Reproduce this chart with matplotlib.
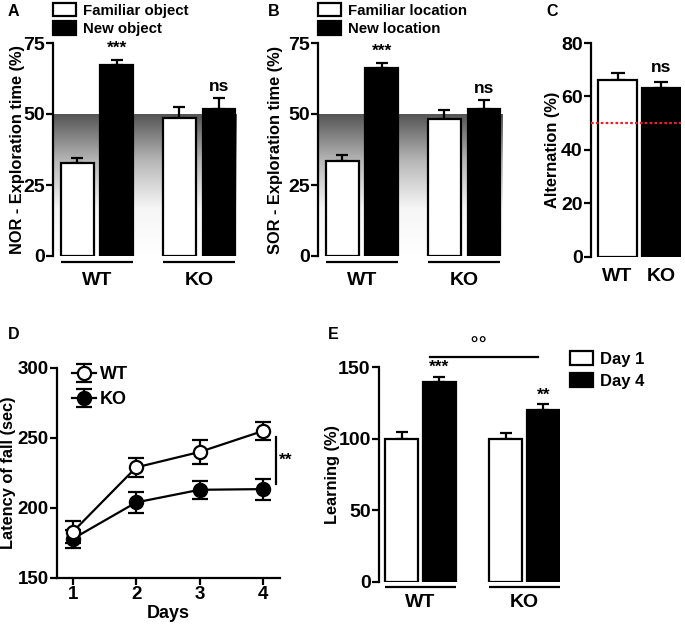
import numpy as np
import matplotlib
matplotlib.use("Agg")
import matplotlib.pyplot as plt
from matplotlib.colors import LinearSegmentedColormap

plt.rcParams['font.family'] = ['Liberation Sans', 'DejaVu Sans']
plt.rcParams['font.weight'] = 'bold'
plt.rcParams['axes.labelweight'] = 'bold'

# ---------------- data ----------------
groups = ["WT", "KO"]

# Panel A (NOR)
nor_labels = ["Familiar object", "New object"]
nor_familiar = [32.7, 48.6]
nor_familiar_err = [1.8, 3.8]
nor_new = [67.2, 51.7]
nor_new_err = [1.8, 3.9]
nor_sig = ["***", "ns"]

# Panel B (SOR)
sor_labels = ["Familiar location", "New location"]
sor_familiar = [33.6, 48.2]
sor_familiar_err = [2.0, 3.2]
sor_new = [66.1, 51.8]
sor_new_err = [1.9, 3.2]
sor_sig = ["***", "ns"]

# Panel C (alternation)
alt_values = [66.2, 63.2]
alt_err = [2.6, 2.3]
alt_chance = 50
alt_sig = "ns"

# Panel D (rotarod)
days = [1, 2, 3, 4]
rot_wt = [183, 229, 240, 255]
rot_wt_err = [8, 7, 8.5, 6.5]
rot_ko = [178, 204, 213, 213.5]
rot_ko_err = [6.5, 7.5, 6.5, 7.5]
rot_sig = "**"

# Panel E (learning)
learn_labels = ["Day 1", "Day 4"]
learn_day1 = [100, 100]
learn_day1_err = [4.8, 4.2]
learn_day4 = [139.8, 120.0]
learn_day4_err = [3.5, 4.0]
learn_sig = ["***", "**"]
learn_between_sig = "°°"

# ---------------- layout helpers ----------------
W, H = 685, 626
fig = plt.figure(figsize=(W / 100, H / 100), dpi=100)


def px_axes(x0, ytop, x1, ybot):
    return fig.add_axes([x0 / W, 1 - ybot / H, (x1 - x0) / W, (ybot - ytop) / H])


def fig_pt(x, y):
    return (x / W, 1 - y / H)


LW = 1.6
TICKFS = 14
LABFS = 11.8
CAP = 4.2


def style(ax, bottom=False, tickfs=TICKFS):
    for s in ["top", "right"]:
        ax.spines[s].set_visible(False)
    ax.spines["left"].set_linewidth(LW)
    ax.spines["bottom"].set_linewidth(LW)
    if not bottom:
        ax.spines["bottom"].set_visible(False)
    ax.tick_params(axis="y", width=LW, length=5, labelsize=tickfs, pad=1)
    ax.tick_params(axis="x", width=LW, length=5, labelsize=tickfs, pad=1)
    for t in ax.get_yticklabels() + ax.get_xticklabels():
        t.set_fontweight("bold")


def place_ylabel(ax, right_px, axis_left_px, axis_width_px):
    # put the right edge of the rotated y label at a given pixel column
    ax.yaxis.set_label_coords((right_px - axis_left_px) / axis_width_px, 0.5)
    ax.yaxis.label.set_va("bottom")
    ax.yaxis.label.set_ha("center")


def group_underlines(ax, centers, half, y, labels, label_y):
    for c, lab in zip(centers, labels):
        ax.plot([c - half, c + half], [y, y], color="black", lw=LW, clip_on=False,
                solid_capstyle="butt")
        ax.text(c, label_y, lab, ha="center", va="top", fontsize=TICKFS,
                fontweight="bold")


gray_cmap = LinearSegmentedColormap.from_list("g", ["#ffffff", "#f6f6f6", "#b8b8b8", "#555555"])


def paired_panel(ax, fam, fam_err, new, new_err, sig, labels, ylabel, leg_xy):
    x = np.arange(len(groups))
    w = 0.32
    off = 0.193
    xlim = (-0.43, 1.37)
    # gradient background below chance level
    grad = np.linspace(0, 1, 256).reshape(-1, 1)
    ax.imshow(grad, extent=[xlim[0], xlim[1], 0, 50], origin="lower", cmap=gray_cmap,
              aspect="auto", zorder=0)
    b1 = ax.bar(x - off, fam, w, color="white", edgecolor="black", lw=LW, zorder=2,
                label=labels[0])
    ax.errorbar(x - off, fam, yerr=[np.zeros(len(fam)), fam_err], fmt="none",
                ecolor="black", elinewidth=LW, capsize=CAP, capthick=LW, zorder=1)
    b2 = ax.bar(x + off, new, w, color="black", edgecolor="black", lw=LW, zorder=2,
                label=labels[1])
    ax.errorbar(x + off, new, yerr=[np.zeros(len(new)), new_err], fmt="none",
                ecolor="black", elinewidth=LW, capsize=CAP, capthick=LW, zorder=1)
    for xi, v, e, s in zip(x + off, new, new_err, sig):
        ax.text(xi, v + e + 1.5, s, ha="center", va="bottom", fontsize=12.5, fontweight="bold")
    ax.set_xlim(*xlim)
    ax.set_ylim(0, 75)
    ax.set_yticks([0, 25, 50, 75])
    ax.set_xticks([])
    ax.set_ylabel(ylabel, fontsize=LABFS)
    style(ax)
    group_underlines(ax, x, off + w / 2, -2.1, groups, -5.5)
    ax.legend(handles=[b1, b2], loc="upper left", bbox_to_anchor=fig_pt(*leg_xy),
              bbox_transform=fig.transFigure, frameon=False,
              handlelength=1.55, handleheight=1.0, borderaxespad=0, borderpad=0.0,
              labelspacing=0.22, handletextpad=0.45,
              prop={"weight": "bold", "size": 10.8})
    return ax


# Panel A
axA = px_axes(53, 43, 237, 256)
paired_panel(axA, nor_familiar, nor_familiar_err, nor_new, nor_new_err, nor_sig,
             nor_labels, "NOR - Exploration time (%)", (53, 3))
place_ylabel(axA, 25, 53, 184)

# Panel B
axB = px_axes(318, 43, 502, 256)
paired_panel(axB, sor_familiar, sor_familiar_err, sor_new, sor_new_err, sor_sig,
             sor_labels, "SOR - Exploration time (%)", (318, 3))
place_ylabel(axB, 283, 318, 184)

# Panel C
axC = px_axes(591, 43, 681, 257)
xc = np.arange(len(groups))
axC.bar(xc, alt_values, 0.9, color=["white", "black"], edgecolor="black", lw=LW, zorder=2)
axC.errorbar(xc, alt_values, yerr=[np.zeros(2), alt_err], fmt="none", ecolor="black",
             elinewidth=LW, capsize=CAP + 0.5, capthick=LW, zorder=1)
axC.axhline(alt_chance, color="#e8202a", ls=(0, (1.2, 1.0)), lw=1.6, zorder=3)
axC.text(xc[1], alt_values[1] + alt_err[1] + 2.5, alt_sig, ha="center", va="bottom",
         fontsize=12.5, fontweight="bold")
axC.set_xlim(-0.61, 1.45)
axC.set_ylim(0, 80)
axC.set_yticks([0, 20, 40, 60, 80])
axC.set_xticks(xc)
axC.set_xticklabels(groups)
axC.set_ylabel("Alternation (%)", fontsize=LABFS)
style(axC)
axC.tick_params(axis="x", length=0, pad=8)
place_ylabel(axC, 560, 591, 90)

# Panel D
axD = px_axes(57, 368, 280, 578)
axD.errorbar(days, rot_wt, yerr=rot_wt_err, color="black", lw=LW, marker="o", ms=9.5,
             mfc="white", mec="black", mew=LW, ecolor="black", elinewidth=LW, capsize=5.5,
             capthick=LW, label="WT", zorder=3)
axD.errorbar(days, rot_ko, yerr=rot_ko_err, color="black", lw=LW, marker="o", ms=9.5,
             mfc="black", mec="black", mew=LW, ecolor="black", elinewidth=LW, capsize=5.5,
             capthick=LW, label="KO", zorder=2)
axD.set_xlim(0.75, 4.27)
axD.set_ylim(150, 300)
axD.set_yticks([150, 200, 250, 300])
axD.set_xticks(days)
axD.set_xlabel("Days", fontsize=13, labelpad=1)
axD.set_ylabel("Latency of fall (sec)", fontsize=LABFS)
style(axD, bottom=True, tickfs=13.5)
place_ylabel(axD, 16, 57, 223)
axD.plot([4.2, 4.2], [217, 251], color="black", lw=LW, clip_on=False)
axD.text(4.25, 234, rot_sig, ha="left", va="center", fontsize=12.5, fontweight="bold")
hD, lD = axD.get_legend_handles_labels()
axD.legend(hD, lD, loc="upper left", bbox_to_anchor=fig_pt(72, 366),
           bbox_transform=fig.transFigure, frameon=False, borderaxespad=0, borderpad=0,
           handlelength=1.35, handletextpad=0.2, labelspacing=0.45,
           prop={"weight": "bold", "size": 13})

# Panel E
axE = px_axes(379, 367, 560, 582)
xe = np.arange(len(groups))
we, offe = 0.317, 0.18
bd1 = axE.bar(xe - offe, learn_day1, we, color="white", edgecolor="black", lw=LW, zorder=2,
              label=learn_labels[0])
axE.errorbar(xe - offe, learn_day1, yerr=[np.zeros(2), learn_day1_err], fmt="none",
             ecolor="black", elinewidth=LW, capsize=CAP, capthick=LW, zorder=1)
bd4 = axE.bar(xe + offe, learn_day4, we, color="black", edgecolor="black", lw=LW, zorder=2,
              label=learn_labels[1])
axE.errorbar(xe + offe, learn_day4, yerr=[np.zeros(2), learn_day4_err], fmt="none",
             ecolor="black", elinewidth=LW, capsize=CAP, capthick=LW, zorder=1)
for xi, v, e, s in zip(xe + offe, learn_day4, learn_day4_err, learn_sig):
    axE.text(xi, v + e + 1.0, s, ha="center", va="bottom", fontsize=12.5, fontweight="bold")
axE.plot([xe[0] - offe + 0.27, xe[1] + offe - 0.05], [157, 157], color="black", lw=LW,
         clip_on=False)
axE.text((xe[0] + xe[1]) / 2 + 0.06, 158.5, learn_between_sig, ha="center", va="bottom",
         fontsize=13, fontweight="bold", family=["DejaVu Sans"])
axE.set_xlim(-0.397, 1.34)
axE.set_ylim(0, 150)
axE.set_yticks([0, 50, 100, 150])
axE.set_xticks([])
axE.set_ylabel("Learning (%)", fontsize=LABFS)
style(axE)
place_ylabel(axE, 340, 379, 181)
group_underlines(axE, xe, offe + we / 2, -3.6, groups, -8.5)
axE.legend(handles=[bd1, bd4], loc="upper left", bbox_to_anchor=fig_pt(570, 351),
           bbox_transform=fig.transFigure, frameon=False, handlelength=1.4,
           handleheight=0.95, handletextpad=0.4, labelspacing=0.35, borderaxespad=0,
           borderpad=0, prop={"weight": "bold", "size": 12})

# Panel letters
for lab, x, y in [("A", 8, 12), ("B", 268, 12), ("C", 546, 12), ("D", 8, 334), ("E", 328, 334)]:
    fig.text(x / W, 1 - y / H, lab, ha="left", va="center", fontsize=11.5, fontweight="bold")

fig.savefig("out.png", dpi=100)
